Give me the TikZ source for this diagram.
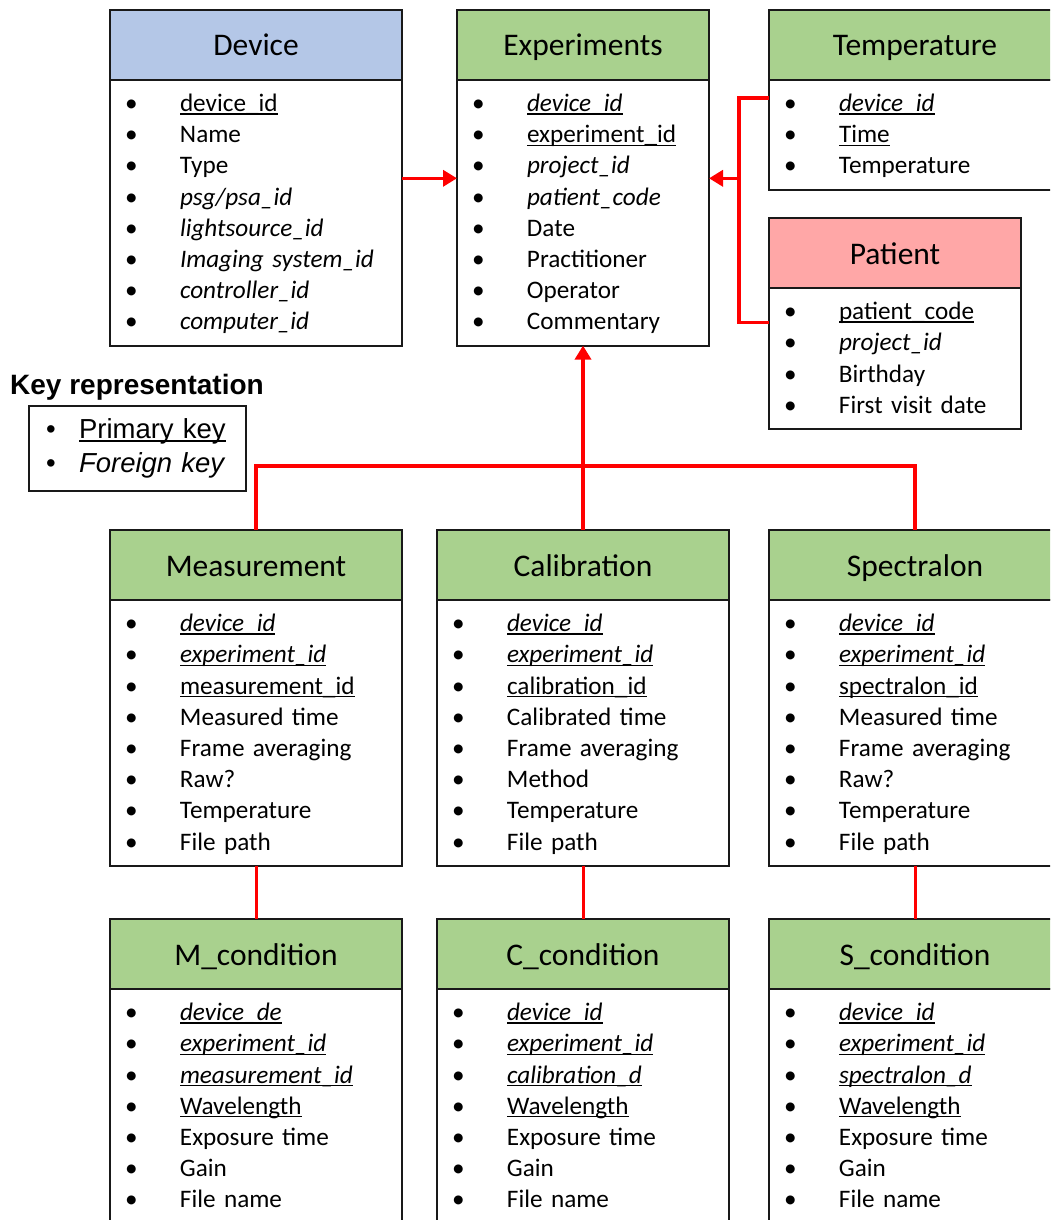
\documentclass[tikz,border=0pt]{standalone}
\usepackage{fontspec}
\setmainfont{Carlito}
\newfontfamily\arialfont{Liberation Sans}
\usetikzlibrary{arrows.meta,positioning}
\definecolor{devblue}{RGB}{180,199,231}
\definecolor{tblgreen}{RGB}{169,209,142}
\definecolor{patpink}{RGB}{255,167,167}
\newcommand\fld[1]{\makebox[55pt][l]{\textbullet}#1\rule[-7.6pt]{0pt}{31.2pt}}
\newcommand\kfld[1]{\makebox[33pt][l]{\textbullet}#1}
\newcommand\pkey[1]{\setbox0\hbox{#1}\rlap{\rule[-3.2pt]{\wd0}{1.4pt}}\box0}
\newcommand\fkey[1]{\textit{#1}}

\begin{document}
\begin{tikzpicture}[
    x=1pt, y=-1pt,
    head/.style={rectangle, draw=black!90, line width=2pt, fill=#1, minimum height=70pt, inner sep=0pt, outer sep=0pt, text height=24pt, text depth=2pt, font=\fontsize{31.5}{36}\selectfont},
    body/.style={rectangle, draw=black!90, line width=2pt, fill=white, text width=#1, align=left, inner xsep=15pt, inner ysep=8pt, outer sep=0pt, font=\fontsize{25.2}{31.2}\selectfont},
    link/.style={draw=red, line width=3.5pt},
    arrow/.style={link, -{Triangle[length=14pt,width=16pt]}}
]
\useasboundingbox (0,0) rectangle (1050,1220);
\clip (0,0) rectangle (1050,1220);

\node[head=devblue, minimum width=292pt] (device) at (256,45) {Device};
\node[body=262pt, below=0pt of device] (deviceb) {\fld{\pkey{device\_id}}\\ \fld{Name}\\ \fld{Type}\\ \fld{\fkey{psg/psa\_id}}\\ \fld{\fkey{lightsource\_id}}\\ \fld{\fkey{Imaging system\_id}}\\ \fld{\fkey{controller\_id}}\\ \fld{\fkey{computer\_id}}};

\node[head=tblgreen, minimum width=252pt] (exper) at (583,45) {Experiments};
\node[body=222pt, below=0pt of exper] (experb) {\fld{\pkey{\fkey{device\_id}}}\\ \fld{\pkey{experiment\_id}}\\ \fld{\fkey{project\_id}}\\ \fld{\fkey{patient\_code}}\\ \fld{Date}\\ \fld{Practitioner}\\ \fld{Operator}\\ \fld{Commentary}};

\node[head=tblgreen, minimum width=292pt] (temp) at (915,45) {Temperature};
\node[body=262pt, below=0pt of temp] (tempb) {\fld{\pkey{\fkey{device\_id}}}\\ \fld{\pkey{Time}}\\ \fld{Temperature}};

\node[head=patpink, minimum width=252pt] (patient) at (895,253) {Patient};
\node[body=222pt, below=0pt of patient] (patientb) {\fld{\pkey{patient\_code}}\\ \fld{\fkey{project\_id}}\\ \fld{Birthday}\\ \fld{First visit date}};

\node[anchor=west, inner sep=0pt, font=\arialfont\bfseries\fontsize{28}{33}\selectfont] (keytitle) at (10,387) {Key representation};
\node[rectangle, draw=black!90, line width=1.5pt, minimum width=217pt, minimum height=85pt, text width=183pt, inner xsep=17pt, align=left, font=\arialfont\fontsize{27.5}{34}\selectfont] (keybox) at (137.5,448.5) {\kfld{\pkey{Primary key}}\\ \kfld{\textit{Foreign key}}};

\node[head=tblgreen, minimum width=292pt] (meas) at (256,565) {Measurement};
\node[body=262pt, below=0pt of meas] (measb) {\fld{\pkey{\fkey{device\_id}}}\\ \fld{\pkey{\fkey{experiment\_id}}}\\ \fld{\pkey{measurement\_id}}\\ \fld{Measured time}\\ \fld{Frame averaging}\\ \fld{Raw?}\\ \fld{Temperature}\\ \fld{File path}};

\node[head=tblgreen, minimum width=292pt] (calib) at (583,565) {Calibration};
\node[body=262pt, below=0pt of calib] (calibb) {\fld{\pkey{\fkey{device\_id}}}\\ \fld{\pkey{\fkey{experiment\_id}}}\\ \fld{\pkey{calibration\_id}}\\ \fld{Calibrated time}\\ \fld{Frame averaging}\\ \fld{Method}\\ \fld{Temperature}\\ \fld{File path}};

\node[head=tblgreen, minimum width=292pt] (spec) at (915,565) {Spectralon};
\node[body=262pt, below=0pt of spec] (specb) {\fld{\pkey{\fkey{device\_id}}}\\ \fld{\pkey{\fkey{experiment\_id}}}\\ \fld{\pkey{spectralon\_id}}\\ \fld{Measured time}\\ \fld{Frame averaging}\\ \fld{Raw?}\\ \fld{Temperature}\\ \fld{File path}};

\node[head=tblgreen, minimum width=292pt] (mcond) at (256,954) {M\_condition};
\node[body=262pt, below=0pt of mcond] (mcondb) {\fld{\pkey{\fkey{device\_de}}}\\ \fld{\pkey{\fkey{experiment\_id}}}\\ \fld{\pkey{\fkey{measurement\_id}}}\\ \fld{\pkey{Wavelength}}\\ \fld{Exposure time}\\ \fld{Gain}\\ \fld{File name}};

\node[head=tblgreen, minimum width=292pt] (ccond) at (583,954) {C\_condition};
\node[body=262pt, below=0pt of ccond] (ccondb) {\fld{\pkey{\fkey{device\_id}}}\\ \fld{\pkey{\fkey{experiment\_id}}}\\ \fld{\pkey{\fkey{calibration\_d}}}\\ \fld{\pkey{Wavelength}}\\ \fld{Exposure time}\\ \fld{Gain}\\ \fld{File name}};

\node[head=tblgreen, minimum width=292pt] (scond) at (915,954) {S\_condition};
\node[body=262pt, below=0pt of scond] (scondb) {\fld{\pkey{\fkey{device\_id}}}\\ \fld{\pkey{\fkey{experiment\_id}}}\\ \fld{\pkey{\fkey{spectralon\_d}}}\\ \fld{\pkey{Wavelength}}\\ \fld{Exposure time}\\ \fld{Gain}\\ \fld{File name}};

\coordinate (tjoin) at ([xshift=30pt,yshift=34.5pt]experb.east);

\draw[arrow] ([yshift=34.5pt]deviceb.east) -- ([yshift=34.5pt]experb.west);
\draw[link] ([yshift=37pt]tempb.west) -| (tjoin) |- ([yshift=36pt]patientb.west);
\draw[arrow] (tjoin) -- ([yshift=34.5pt]experb.east);
\draw[link] (meas.north) -- ++(0,-64) -| (spec.north);
\draw[arrow] (calib.north) -- (experb.south);
\draw[link, line width=3pt] (measb.south) -- (mcond.north);
\draw[link, line width=3pt] (calibb.south) -- (ccond.north);
\draw[link, line width=3pt] (specb.south) -- (scond.north);
\end{tikzpicture}
\end{document}
